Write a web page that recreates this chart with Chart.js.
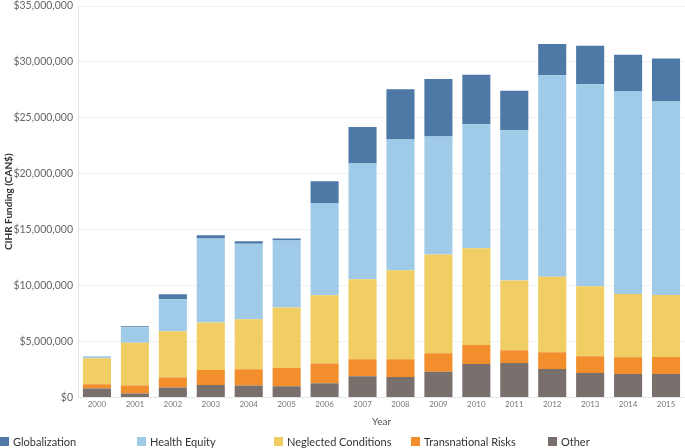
<!DOCTYPE html>
<html>
<head>
<meta charset="utf-8">
<script src="https://cdn.jsdelivr.net/npm/chart.js@4.4.0/dist/chart.umd.min.js"></script>
<style>
  html, body { margin: 0; padding: 0; background: #fff; }
  #wrap { position: relative; width: 685px; height: 448px; overflow: hidden; }
  #chartBox { position: absolute; left: 0; top: 0; width: 685px; height: 438px; }
  #legend { position: absolute; left: 0; top: 435px; width: 685px; height: 13px; display: flex;
    font-family: Lato, "Open Sans", sans-serif; font-size: 11px; color: #333; }
  #legend .item { width: 137px; display: flex; align-items: center; white-space: nowrap; }
  #legend .sw { width: 9px; height: 9px; margin-right: 4px; flex: none; }
</style>
</head>
<body>
<div id="wrap">
  <div id="chartBox"><canvas id="myChart"></canvas></div>
  <div id="legend"></div>
</div>
<script>
let years = ["2000", "2001", "2002", "2003", "2004", "2005", "2006", "2007",
  "2008", "2009", "2010", "2011", "2012", "2013", "2014", "2015"];

// values in millions of CAN$
let other = [0.80, 0.35, 0.88, 1.12, 1.06, 1.00, 1.27, 1.89, 1.83, 2.30, 2.98, 3.07, 2.54, 2.18, 2.09, 2.09];
let transnational = [0.38, 0.71, 0.89, 1.33, 1.45, 1.62, 1.77, 1.53, 1.59, 1.65, 1.70, 1.14, 1.50, 1.50, 1.51, 1.53];
let neglected = [2.33, 3.83, 4.15, 4.24, 4.47, 5.42, 6.09, 7.15, 7.95, 8.83, 8.66, 6.25, 6.74, 6.25, 5.65, 5.54];
let healthEquity = [0.17, 1.38, 2.86, 7.53, 6.77, 5.98, 8.25, 10.34, 11.69, 10.54, 11.08, 13.43, 18.02, 18.07, 18.14, 17.31];
let globalization = [0.00, 0.09, 0.44, 0.27, 0.21, 0.20, 1.94, 3.27, 4.50, 5.16, 4.44, 3.53, 2.80, 3.45, 3.24, 3.83];

let yTicks = [0, 5, 10, 15, 20, 25, 30, 35];

let series = [
  { label: "Globalization", data: globalization, color: "#4e79a7" },
  { label: "Health Equity", data: healthEquity, color: "#a0cbe8" },
  { label: "Neglected Conditions", data: neglected, color: "#f1ce63" },
  { label: "Transnational Risks", data: transnational, color: "#f28e2b" },
  { label: "Other", data: other, color: "#79706e" }
];

const fontFam = "Lato, 'Open Sans', sans-serif";

const money = (m) => "$" + Math.round(m * 1000000).toLocaleString("en-US");

const PlotChart = () => {
  const ctx = document.getElementById("myChart");

  // stack order: Other at the bottom, Globalization on top
  let datasets = series.slice().reverse().map((s) => ({
    label: s.label,
    data: s.data.map((v) => v * 1000000),
    backgroundColor: s.color,
    borderWidth: 0,
    barPercentage: 0.74,
    categoryPercentage: 1.0
  }));

  new Chart(ctx, {
    type: "bar",
    data: { labels: years, datasets: datasets },
    options: {
      responsive: true,
      maintainAspectRatio: false,
      animation: false,
      layout: { padding: 0 },
      plugins: {
        legend: { display: false },
        tooltip: { enabled: false }
      },
      scales: {
        x: {
          stacked: true,
          grid: { display: false, drawTicks: false },
          border: { display: true, color: "#e6e6e6" },
          ticks: { color: "#777", font: { family: fontFam, size: 8 }, padding: 2, maxRotation: 0 },
          title: { display: true, text: "Year", color: "#555", font: { family: fontFam, size: 10 },
            padding: { top: 5, bottom: 10 } }
        },
        y: {
          stacked: true,
          min: 0,
          max: 35000000,
          afterBuildTicks: (scale) => {
            scale.ticks = yTicks.map((v) => ({ value: v * 1000000 }));
          },
          afterFit: (scale) => {
            scale.width = 78;
            scale.paddingTop = 6;
          },
          grid: { color: "#f0f0f0", drawTicks: false },
          border: { display: true, color: "#e6e6e6" },
          ticks: {
            color: "#666",
            font: { family: fontFam, size: 10.5 },
            padding: 5,
            callback: (v) => money(v / 1000000)
          },
          title: { display: true, text: "CIHR Funding (CAN$)", color: "#333",
            font: { family: fontFam, size: 10, weight: "bold" }, padding: { top: 3, bottom: 2 } }
        }
      }
    }
  });
};

const BuildLegend = () => {
  let lg = document.getElementById("legend");
  series.forEach((s) => {
    lg.innerHTML += `<div class="item"><span class="sw" style="background:${s.color}"></span>${s.label}</div>`;
  });
};

window.onload = () => {
  BuildLegend();
  PlotChart();
};
</script>
</body>
</html>
